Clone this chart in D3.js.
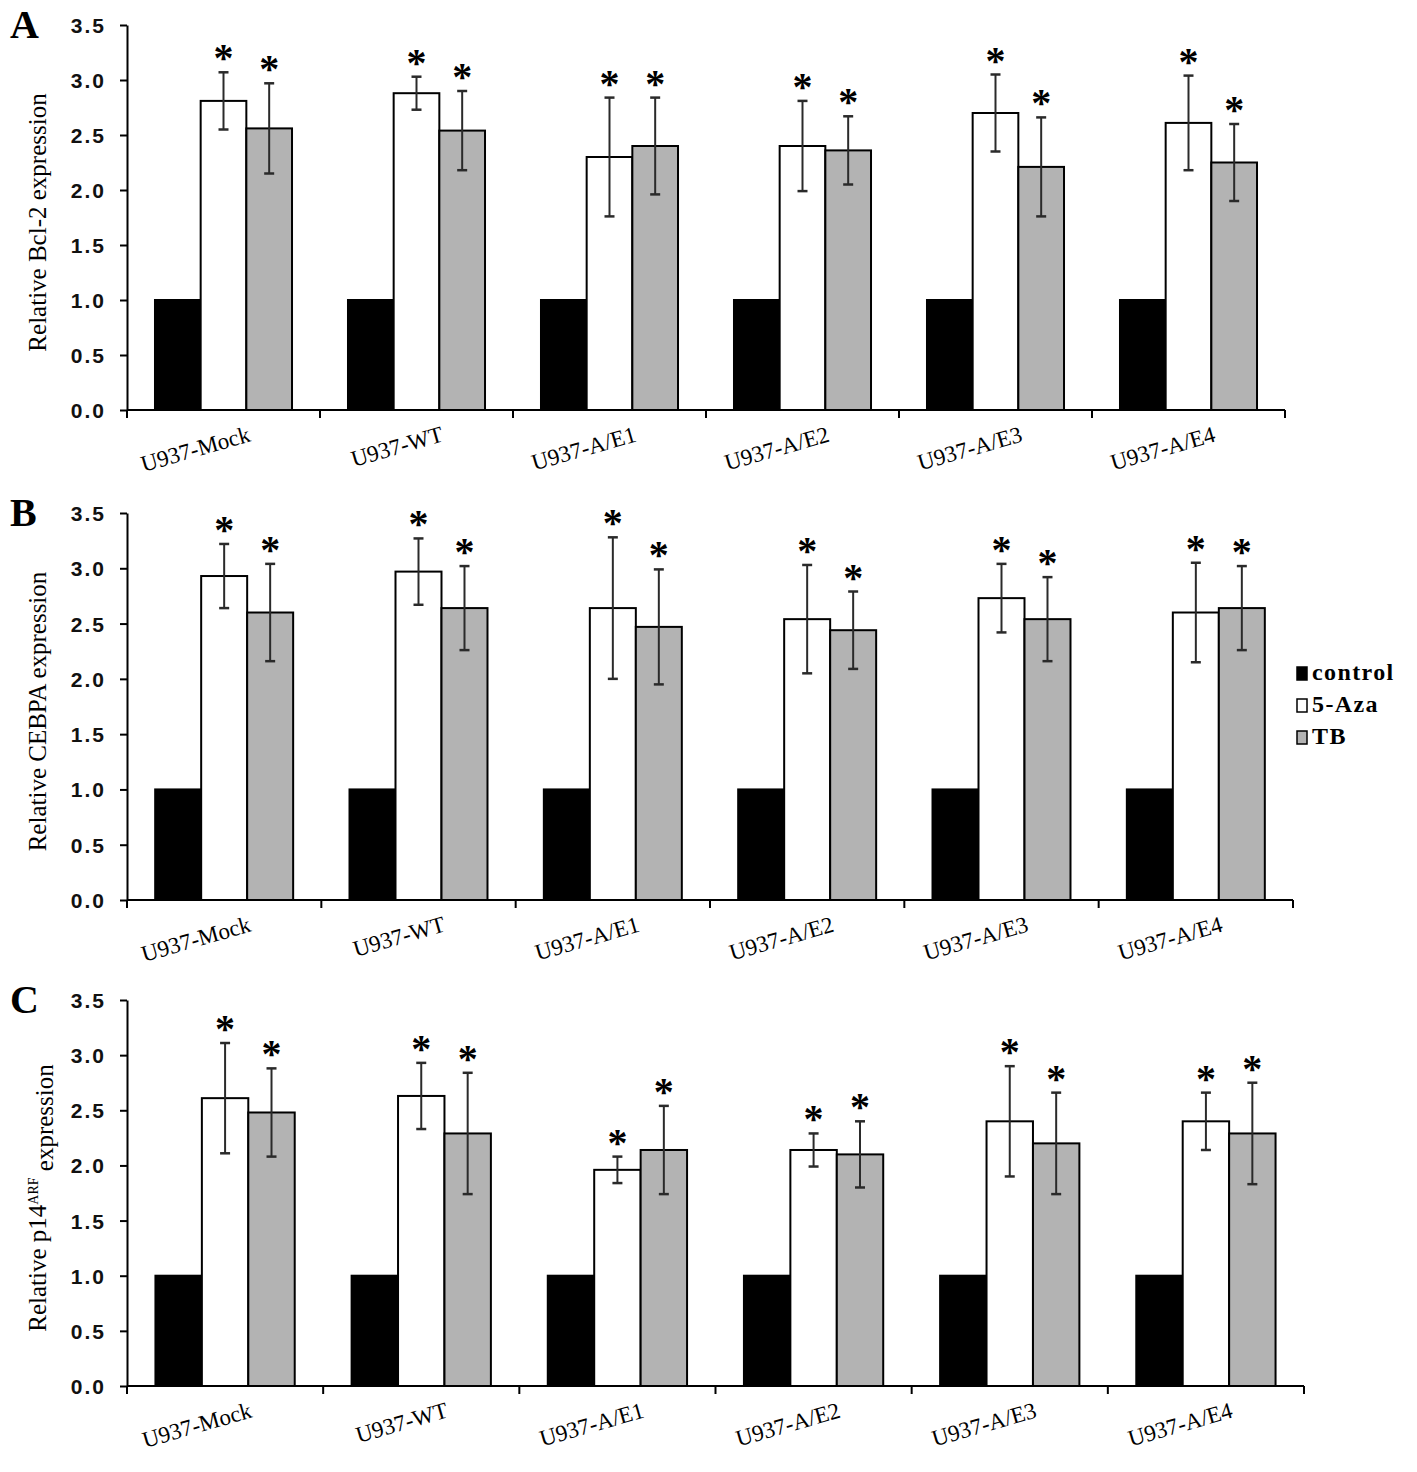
<!DOCTYPE html>
<html>
<head>
<meta charset="utf-8">
<script src="https://cdn.jsdelivr.net/npm/d3@7"></script>
<style>
  body { margin: 0; background: #fff; }
  svg { display: block; }
</style>
</head>
<body>
<div id="chart"></div>
<script>
// shared labels
const categories = ["U937-Mock", "U937-WT", "U937-A/E1", "U937-A/E2", "U937-A/E3", "U937-A/E4"];
const series = ["control", "5-Aza", "TB"];
const yTicks = [0, 0.5, 1, 1.5, 2, 2.5, 3, 3.5];

// A: Bcl-2
const bcl2Control = [1, 1, 1, 1, 1, 1];
const bcl2Aza = [2.81, 2.88, 2.30, 2.40, 2.70, 2.61];
const bcl2AzaErr = [0.26, 0.15, 0.54, 0.41, 0.35, 0.43];
const bcl2TB = [2.56, 2.54, 2.40, 2.36, 2.21, 2.25];
const bcl2TBErr = [0.41, 0.36, 0.44, 0.31, 0.45, 0.35];

// B: CEBPA
const cebpaControl = [1, 1, 1, 1, 1, 1];
const cebpaAza = [2.93, 2.97, 2.64, 2.54, 2.73, 2.60];
const cebpaAzaErr = [0.29, 0.30, 0.64, 0.49, 0.31, 0.45];
const cebpaTB = [2.60, 2.64, 2.47, 2.44, 2.54, 2.64];
const cebpaTBErr = [0.44, 0.38, 0.52, 0.35, 0.38, 0.38];

// C: p14ARF
const p14Control = [1, 1, 1, 1, 1, 1];
const p14Aza = [2.61, 2.63, 1.96, 2.14, 2.40, 2.40];
const p14AzaErr = [0.50, 0.30, 0.12, 0.15, 0.50, 0.26];
const p14TB = [2.48, 2.29, 2.14, 2.10, 2.20, 2.29];
const p14TBErr = [0.40, 0.55, 0.40, 0.30, 0.46, 0.46];

const fills = { "control": "#000000", "5-Aza": "#ffffff", "TB": "#b3b3b3" };

const W = 1417, H = 1472;
const svg = d3.select("#chart").append("svg")
  .attr("width", W)
  .attr("height", H);

const serif = "'Liberation Serif', 'Times New Roman', serif";
const tickFont = "'Liberation Sans Narrow', 'Arial Narrow', 'Liberation Sans', Arial, sans-serif";

const panels = [
  { letter: "A", title: ["Relative Bcl-2 expression"], top: 25, bottom: 410, right: 1285,
    values: [bcl2Control, bcl2Aza, bcl2TB], errs: [null, bcl2AzaErr, bcl2TBErr] },
  { letter: "B", title: ["Relative CEBPA expression"], top: 513, bottom: 900, right: 1293,
    values: [cebpaControl, cebpaAza, cebpaTB], errs: [null, cebpaAzaErr, cebpaTBErr], legend: true },
  { letter: "C", title: ["Relative p14", "ARF", " expression"], top: 1000, bottom: 1386, right: 1304,
    values: [p14Control, p14Aza, p14TB], errs: [null, p14AzaErr, p14TBErr] }
];

const left = 127;

panels.forEach((p) => {
  const g = svg.append("g");

  const y = d3.scaleLinear().domain([0, 3.5]).range([p.bottom, p.top]);
  const x0 = d3.scaleBand().domain(categories).range([left, p.right]).padding(0);
  const bw = x0.bandwidth();
  const x1 = d3.scaleBand().domain(series).range([bw * 0.145, bw * 0.855]).padding(0);

  // rows of data for the bars
  const rows = [];
  categories.forEach((c, i) => {
    series.forEach((s, j) => {
      rows.push({ cat: c, ser: s, v: p.values[j][i], e: p.errs[j] ? p.errs[j][i] : null });
    });
  });

  // bars
  g.selectAll("rect.bar")
    .data(rows)
    .enter()
    .append("rect")
    .attr("class", "bar")
    .attr("x", (d) => x0(d.cat) + x1(d.ser))
    .attr("y", (d) => y(d.v))
    .attr("width", x1.bandwidth())
    .attr("height", (d) => y(0) - y(d.v))
    .attr("fill", (d) => fills[d.ser])
    .attr("stroke", "#000")
    .attr("stroke-width", 2);

  // error bars
  const withErr = rows.filter((d) => d.e !== null);
  const cx = (d) => x0(d.cat) + x1(d.ser) + x1.bandwidth() / 2;
  const eg = g.selectAll("g.err").data(withErr).enter().append("g").attr("class", "err");
  eg.append("line")
    .attr("x1", cx).attr("x2", cx)
    .attr("y1", (d) => y(d.v + d.e)).attr("y2", (d) => y(d.v - d.e))
    .attr("stroke", "#2a2a2a").attr("stroke-width", 2);
  eg.append("line")
    .attr("x1", (d) => cx(d) - 5).attr("x2", (d) => cx(d) + 5)
    .attr("y1", (d) => y(d.v + d.e)).attr("y2", (d) => y(d.v + d.e))
    .attr("stroke", "#2a2a2a").attr("stroke-width", 2.5);
  eg.append("line")
    .attr("x1", (d) => cx(d) - 5).attr("x2", (d) => cx(d) + 5)
    .attr("y1", (d) => y(d.v - d.e)).attr("y2", (d) => y(d.v - d.e))
    .attr("stroke", "#2a2a2a").attr("stroke-width", 2.5);

  // significance stars
  eg.append("text")
    .attr("x", cx)
    .attr("y", (d) => y(d.v + d.e) - 1)
    .attr("text-anchor", "middle")
    .style("font-family", serif)
    .style("font-weight", "bold")
    .style("font-size", "40px")
    .text("*");

  // Y axis
  const yAxis = g.append("g")
    .attr("transform", `translate(${left},0)`)
    .call(d3.axisLeft(y).tickValues(yTicks).tickFormat(d3.format(".1f")).tickSize(7).tickSizeOuter(0));
  yAxis.select(".domain").attr("stroke-width", 2);
  yAxis.selectAll(".tick line").attr("stroke-width", 2);
  yAxis.selectAll(".tick text")
    .attr("x", -21)
    .attr("dy", "0.36em")
    .style("font-family", tickFont)
    .style("font-weight", "bold")
    .style("font-size", "21px")
    .style("letter-spacing", "2px")
    .attr("fill", "#111");

  // X axis: line plus ticks at group boundaries
  g.append("line")
    .attr("x1", left).attr("x2", p.right)
    .attr("y1", y(0)).attr("y2", y(0))
    .attr("stroke", "#000").attr("stroke-width", 2);
  const bounds = categories.map((c) => x0(c)).concat([p.right]);
  g.selectAll("line.xtick")
    .data(bounds)
    .enter()
    .append("line")
    .attr("class", "xtick")
    .attr("x1", (d) => d).attr("x2", (d) => d)
    .attr("y1", y(0)).attr("y2", y(0) + 8)
    .attr("stroke", "#000").attr("stroke-width", 2);

  // category labels
  g.selectAll("text.cat")
    .data(categories)
    .enter()
    .append("text")
    .attr("class", "cat")
    .attr("text-anchor", "end")
    .attr("transform", (d) => `translate(${x0(d) + bw / 2 + 28},${y(0) + 31}) rotate(-16)`)
    .style("font-family", serif)
    .style("font-size", "23px")
    .text((d) => d);

  // y title
  const ty = g.append("text")
    .attr("text-anchor", "middle")
    .attr("transform", `translate(46,${(p.top + p.bottom) / 2 + 5}) rotate(-90)`)
    .style("font-family", serif)
    .style("font-size", "25px");
  if (p.title.length === 1) {
    ty.text(p.title[0]);
  } else {
    ty.append("tspan").text(p.title[0]);
    ty.append("tspan").attr("dy", "-0.6em").style("font-size", "14px").text(p.title[1]);
    ty.append("tspan").attr("dy", "0.6em").text(p.title[2]);
  }

  // panel letter
  g.append("text")
    .attr("x", 10)
    .attr("y", p.top + 13)
    .style("font-family", serif)
    .style("font-weight", "bold")
    .style("font-size", "40px")
    .text(p.letter);

  // legend
  if (p.legend) {
    const lg = g.append("g").attr("transform", "translate(1297,667)");
    const item = lg.selectAll("g.item")
      .data(series)
      .enter()
      .append("g")
      .attr("class", "item")
      .attr("transform", (d, i) => `translate(0,${i * 32})`);
    item.append("rect")
      .attr("width", 10).attr("height", 13)
      .attr("fill", (d) => fills[d])
      .attr("stroke", "#000").attr("stroke-width", 1.5);
    item.append("text")
      .attr("x", 15).attr("y", 13)
      .style("font-family", serif)
      .style("font-weight", "bold")
      .style("font-size", "24px")
      .style("letter-spacing", "1.4px")
      .text((d) => d);
  }
});
</script>
</body>
</html>
